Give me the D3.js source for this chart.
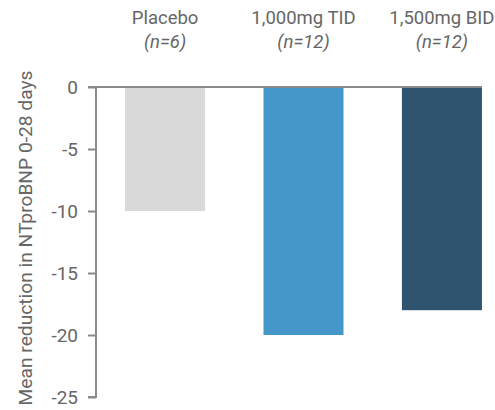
<!DOCTYPE html>
<html>
<head>
<meta charset="utf-8">
<script src="https://cdn.jsdelivr.net/npm/d3@7"></script>
<style>
  html, body { margin: 0; padding: 0; background: #fff; }
  svg text { font-family: Roboto, "Noto Sans", sans-serif; fill: #666666; }
</style>
</head>
<body>
<svg id="chart" width="495" height="410"></svg>
<script>
// Treatment groups and their mean change in NTproBNP (days 0-28)
const groups = ["Placebo", "1,000mg TID", "1,500mg BID"];
const groupN = ["n=6", "n=12", "n=12"];
const meanReduction = [-10, -20, -18];
const barColors = ["#d9d9d9", "#4597c9", "#2f5470"];
const yTicks = [0, -5, -10, -15, -20, -25];
const yTitle = "Mean reduction in NTproBNP 0-28 days";

const svg = d3.select("#chart");
const margin = { top: 87, left: 96 };

const g = svg.append("g").attr("transform", `translate(${margin.left},${margin.top})`);

const x = d3.scaleBand().domain(groups).range([0, 415]).paddingInner(0.422).paddingOuter(0.21);
const y = d3.scaleLinear().domain([0, -25]).range([0, 310]);

// Bars hang down from zero
g.selectAll("rect.bar")
  .data(groups)
  .join("rect")
  .attr("class", "bar")
  .attr("x", d => x(d))
  .attr("width", x.bandwidth())
  .attr("y", y(0))
  .attr("height", (d, i) => y(meanReduction[i]) - y(0))
  .attr("fill", (d, i) => barColors[i]);

// Y axis
const yAxis = g.append("g")
  .call(d3.axisLeft(y).tickValues(yTicks).tickSize(8).tickPadding(10).tickFormat(d => String(d)));
yAxis.select(".domain").attr("stroke", "#8a8a8a").attr("stroke-width", 2)
  .attr("d", `M-8,${y(-25)}H0V${y(0)}`);
yAxis.selectAll(".tick line").attr("stroke", "#8a8a8a").attr("stroke-width", 2);
yAxis.selectAll(".tick text").style("font-size", "19px").attr("fill", "#666666");

// Zero baseline across the bars
g.append("line")
  .attr("x1", -8).attr("x2", x(groups[2]) + x.bandwidth())
  .attr("y1", y(0)).attr("y2", y(0))
  .attr("stroke", "#8a8a8a").attr("stroke-width", 2);

// Group labels above the plot
const labels = g.selectAll("g.cat")
  .data(groups)
  .join("g")
  .attr("class", "cat")
  .attr("transform", d => `translate(${x(d) + x.bandwidth() / 2},0)`);
labels.append("text")
  .attr("y", -63).attr("text-anchor", "middle").style("font-size", "18.5px")
  .text(d => d);
labels.append("text")
  .attr("y", -39).attr("text-anchor", "middle").style("font-size", "18.5px")
  .style("font-style", "italic")
  .text((d, i) => "(" + groupN[i] + ")");

// Rotated y-axis title
svg.append("text")
  .attr("transform", "translate(32,238) rotate(-90)")
  .attr("text-anchor", "middle")
  .style("font-size", "19.2px")
  .text(yTitle);
</script>
</body>
</html>
